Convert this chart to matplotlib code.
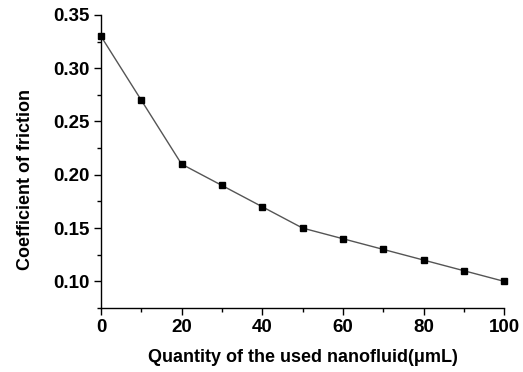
import matplotlib.pyplot as plt
from matplotlib.ticker import MultipleLocator

quantity = [0, 10, 20, 30, 40, 50, 60, 70, 80, 90, 100]
friction = [0.33, 0.27, 0.21, 0.19, 0.17, 0.15, 0.14, 0.13, 0.12, 0.11, 0.10]

plt.rcParams['font.family'] = ['Liberation Sans', 'DejaVu Sans']
plt.rcParams['font.weight'] = 'bold'

fig = plt.figure(figsize=(5.23, 3.72), dpi=100)
ax = fig.add_axes([0.193, 0.172, 0.771, 0.788])
ax.plot(quantity, friction, color='#555555', lw=1, marker='s', ms=5,
        mfc='black', mec='black', clip_on=False, zorder=3)

ax.set_xlim(0, 100)
ax.set_ylim(0.075, 0.35)
ax.xaxis.set_major_locator(MultipleLocator(20))
ax.xaxis.set_minor_locator(MultipleLocator(10))
ax.yaxis.set_minor_locator(MultipleLocator(0.025))
ax.yaxis.set_major_formatter(plt.FormatStrFormatter('%.2f'))
ax.set_yticks([0.10, 0.15, 0.20, 0.25, 0.30, 0.35])

for s in ['top', 'right']:
    ax.spines[s].set_visible(False)
for s in ['left', 'bottom']:
    ax.spines[s].set_linewidth(1)

ax.tick_params(which='major', length=5, width=1, labelsize=13.5, pad=3)
ax.tick_params(which='minor', length=3, width=1)

ax.set_xlabel('Quantity of the used nanofluid(\u03bcmL)', fontsize=13, fontweight='bold', labelpad=9)
ax.set_ylabel('Coefficient of friction', fontsize=13, fontweight='bold')
ax.yaxis.set_label_coords(-0.165, 0.44)

fig.savefig('out.png', dpi=100, facecolor='white')
